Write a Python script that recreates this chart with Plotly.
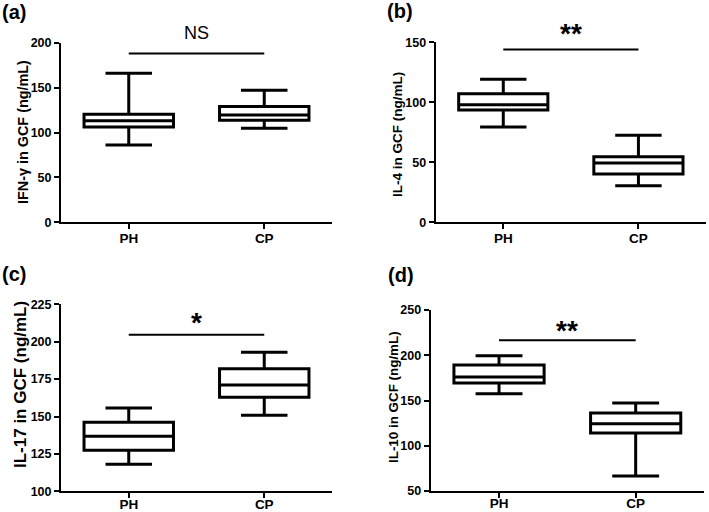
import plotly.graph_objects as go

groups = ["PH", "CP"]

panel_labels = ["(a)", "(b)", "(c)", "(d)"]
y_titles = ["IFN-γ in GCF (ng/mL)", "IL-4 in GCF (ng/mL)",
            "IL-17 in GCF (ng/mL)", "IL-10 in GCF (ng/mL)"]

# box statistics per panel: [PH, CP]
lower = [[86, 104.7], [79.4, 30.5], [118, 150.8], [157.5, 66.6]]
q1 = [[106, 113.6], [93.6, 40.2], [127.4, 162.8], [169.3, 114.1]]
median = [[113, 119.5], [98, 49.4], [136.8, 171], [176, 124.4]]
q3 = [[120.3, 129], [107.2, 54.7], [146.1, 182], [189.2, 136.2]]
upper = [[165.9, 147], [119.2, 72.5], [155.7, 192.9], [199.5, 147.2]]

sig_text = ["NS", "**", "*", "**"]
sig_y = [188, 144, 204.7, 216.5]

y_ranges = [[0, 200], [0, 150], [100, 225], [50, 250]]
y_dtick = [50, 50, 25, 50]

# ---- layout / style (pixels) ----
W, H = 709, 512
px = [(61, 332, 42.7, 222.3), (435.7, 706, 42.3, 222.3),
      (61, 332, 304.3, 491.3), (430.7, 704, 310, 491)]
label_pos = [(0, 12), (385, 11), (0, 274), (386, 275)]
title_pos = [(23, 132), (397.5, 134.5), (20, 385), (393, 397)]
title_size = [14.4, 13.5, 17, 13.4]
sig_shift = [8, -1.5, -5, -8]
xlab_standoff = [-3, -3, -6, -6]

FONT = "Liberation Sans, Arial, sans-serif"
fig = go.Figure()
layout = {}
shapes = []
annotations = []
for i in range(4):
    sfx = "" if i == 0 else str(i + 1)
    xa, ya = "x" + sfx, "y" + sfx
    fig.add_trace(go.Box(
        x=groups, q1=q1[i], median=median[i], q3=q3[i],
        lowerfence=lower[i], upperfence=upper[i],
        xaxis=xa, yaxis=ya, width=0.66, whiskerwidth=0.52,
        line=dict(color="black", width=3), fillcolor="white",
        boxpoints=False, showlegend=False, hoverinfo="skip"))
    l, r, t, b = px[i]
    layout["xaxis" + sfx] = dict(
        domain=[l / W, r / W], anchor=ya, range=[-0.5, 1.5],
        automargin=False, ticklabelstandoff=xlab_standoff[i],
        showline=True, linecolor="black", linewidth=2,
        ticks="outside", ticklen=5, tickwidth=2, tickcolor="black",
        showgrid=False, zeroline=False, fixedrange=True,
        tickfont=dict(family=FONT, size=13.5, color="black", weight="bold"))
    layout["yaxis" + sfx] = dict(
        domain=[1 - b / H, 1 - t / H], anchor=xa, range=y_ranges[i],
        dtick=y_dtick[i], tick0=y_ranges[i][0], automargin=False,
        showline=True, linecolor="black", linewidth=2,
        ticks="outside", ticklen=5, tickwidth=2, tickcolor="black",
        showgrid=False, zeroline=False, fixedrange=True,
        tickfont=dict(family=FONT, size=12.5, color="black", weight="bold"))
    tx, ty = title_pos[i]
    annotations.append(dict(
        xref="paper", yref="paper", x=tx / W, y=1 - ty / H,
        xanchor="center", yanchor="middle", textangle=-90,
        text=y_titles[i], showarrow=False,
        font=dict(family=FONT, size=title_size[i], color="black", weight="bold")))
    shapes.append(dict(type="line", xref=xa, yref=ya, x0=0, x1=1,
                       y0=sig_y[i], y1=sig_y[i],
                       line=dict(color="black", width=2)))
    is_ns = sig_text[i] == "NS"
    annotations.append(dict(
        xref=xa, yref=ya, x=0.5, y=sig_y[i], text=sig_text[i],
        showarrow=False, yanchor="bottom", yshift=sig_shift[i],
        font=dict(family=FONT, size=18 if is_ns else 28, color="black",
                  weight="normal" if is_ns else "bold")))
    lx, ly = label_pos[i]
    annotations.append(dict(
        xref="paper", yref="paper", x=lx / W, y=1 - ly / H,
        xanchor="left", yanchor="middle", text=panel_labels[i],
        showarrow=False,
        font=dict(family=FONT, size=20, color="black", weight="bold")))

fig.update_layout(
    width=W, height=H, margin=dict(l=0, r=0, t=0, b=0),
    paper_bgcolor="white", plot_bgcolor="white",
    shapes=shapes, annotations=annotations, **layout)
fig.write_html("out.html", config={"displayModeBar": False},
               post_script="document.body.style.margin='0';document.body.style.overflow='hidden';")
